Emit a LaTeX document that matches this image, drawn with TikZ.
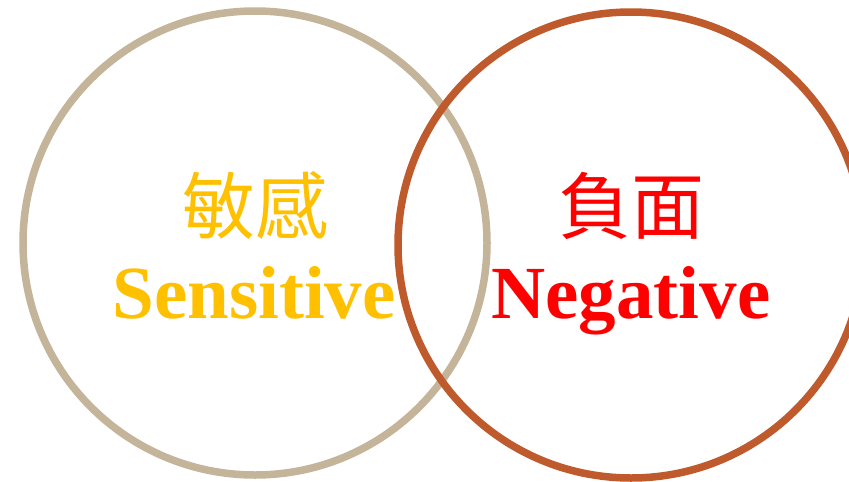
\documentclass[tikz,border=0pt]{standalone}
\usepackage{fontspec}
\setmainfont{Liberation Serif}
\newfontfamily\cjk{Noto Sans CJK TC}
\definecolor{tanc}{HTML}{C4B49A}
\definecolor{rustc}{HTML}{BE5A2C}
\definecolor{goldc}{HTML}{FFC000}
\definecolor{redc}{HTML}{FF0000}
\begin{document}
\begin{tikzpicture}[x=1pt,y=-1pt,
  ring/.style={line width=7.5pt},
  entxt/.style={font=\fontsize{75}{75}\selectfont\bfseries, anchor=base, inner sep=0pt},
  zhtxt/.style={font=\fontsize{73}{73}\selectfont\cjk, anchor=base, inner sep=0pt}]
\useasboundingbox (0,0) rectangle (849,482);
\draw[ring, tanc] (255,243) circle[radius=232];
\draw[ring, rustc] (631,245) circle[radius=233];
\node[zhtxt, text=goldc] (zhL) at (255,233) {敏感};
\node[entxt, text=goldc] (enL) at (254,318) {Sensitive};
\node[zhtxt, text=redc] (zhR) at (631,233) {負面};
\node[entxt, text=redc] (enR) at (631,318) {Negative};
\end{tikzpicture}
\end{document}
